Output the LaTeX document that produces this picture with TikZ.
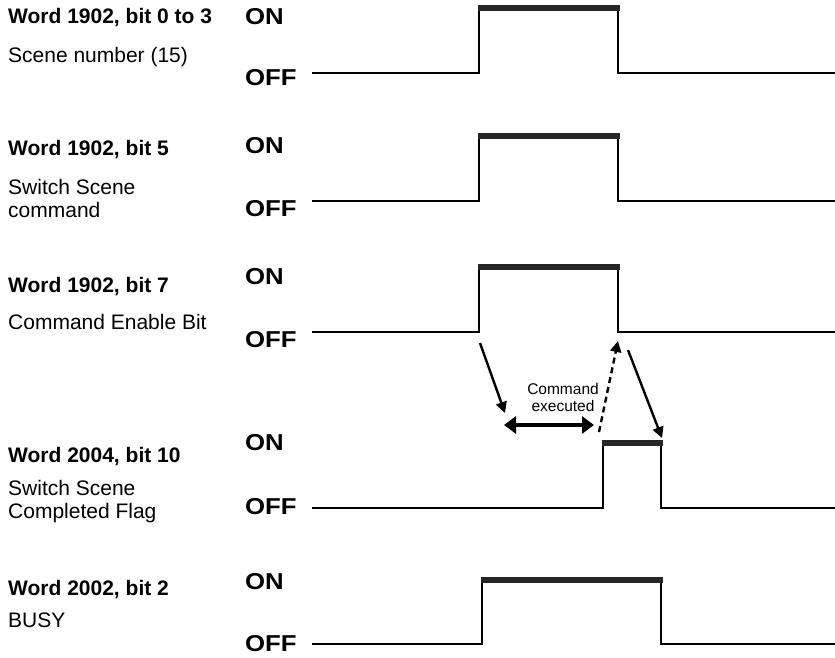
\documentclass[tikz,border=0pt]{standalone}
\usepackage{fontspec}
\setmainfont{Liberation Sans}
\newfontfamily\onofffont[FakeStretch=1.12]{Liberation Sans}
\usetikzlibrary{arrows.meta}
\newcommand\drawpulse[5]{% name, low y, top y, rise x, fall x
  \coordinate (#1s) at (312,#2);
  \coordinate (#1r) at (#4,#2);
  \coordinate (#1rt) at (#4,#3);
  \coordinate (#1ft) at (#5,#3);
  \coordinate (#1f) at (#5,#2);
  \coordinate (#1e) at (835,#2);
  \draw[sig] (#1s) -- (#1r) -- (#1rt) -- (#1ft) -- (#1f) -- (#1e);
  \draw[hi] ([xshift=-1.5pt]#1rt) -- ([xshift=1.5pt]#1ft);
}
\begin{document}
\begin{tikzpicture}[x=1pt,y=-1pt,
  sig/.style={line width=2.8pt, line join=miter},
  hi/.style={line width=6pt, black!85},
  lbl/.style={anchor=west, inner sep=0pt, align=left, font=\fontsize{21}{23}\selectfont},
  blbl/.style={anchor=west, inner sep=0pt, font=\fontsize{21}{23}\selectfont\bfseries},
  onoff/.style={anchor=west, inner sep=0pt, font=\onofffont\bfseries\fontsize{23}{23}\selectfont},
  arr/.style={line width=2.4pt, -{Triangle[length=11pt,width=11pt]}},
  darr/.style={line width=4.5pt, {Triangle[length=12pt,width=17pt]}-{Triangle[length=12pt,width=17pt]}},
  small/.style={align=center, inner sep=0pt, font=\fontsize{15.5}{17}\selectfont}]
\useasboundingbox (0,0) rectangle (835,658);

% row 1
\node[blbl] (w1) at (8,18) {Word 1902, bit 0 to 3};
\node[lbl] (d1) at (8,57) {Scene number (15)};
\node[onoff] (on1) at (245,17) {ON};
\node[onoff] (off1) at (245,78) {OFF};
\drawpulse{p1}{73}{8}{479}{618}

% row 2
\node[blbl] (w2) at (8,150) {Word 1902, bit 5};
\node[lbl] (d2) at (8,198.5) {Switch Scene\\command};
\node[onoff] (on2) at (245,146) {ON};
\node[onoff] (off2) at (245,209) {OFF};
\drawpulse{p2}{201}{136}{479}{618}

% row 3
\node[blbl] (w3) at (8,287) {Word 1902, bit 7};
\node[lbl] (d3) at (8,322) {Command Enable Bit};
\node[onoff] (on3) at (245,277) {ON};
\node[onoff] (off3) at (245,340) {OFF};
\drawpulse{p3}{332}{267}{479}{618}

% row 4
\node[blbl] (w4) at (8,457) {Word 2004, bit 10};
\node[lbl] (d4) at (8,501.5) {Switch Scene\\Completed Flag};
\node[onoff] (on4) at (245,443) {ON};
\node[onoff] (off4) at (245,507) {OFF};
\drawpulse{p4}{508}{443}{603}{661}

% row 5
\node[blbl] (w5) at (8,590) {Word 2002, bit 2};
\node[lbl] (d5) at (8,620) {BUSY};
\node[onoff] (on5) at (245,582) {ON};
\node[onoff] (off5) at (245,644) {OFF};
\drawpulse{p5}{644}{580}{482}{661}

% arrows
\coordinate (a1s) at (480,343);
\coordinate (a1e) at (505,413);
\draw[arr] (a1s) -- (a1e);

\coordinate (dl) at (504,425);
\coordinate (dr) at (594,425);
\draw[darr] (dl) -- (dr);

\coordinate (b1s) at (599,432);
\coordinate (b1e) at (618,341);
\draw[arr, dash pattern=on 6pt off 4pt] (b1s) -- (b1e);

\coordinate (c1s) at (628,350);
\coordinate (c1e) at (662,438);
\draw[arr] (c1s) -- (c1e);

\node[small] (ce) at (563,397) {Command\\executed};
\end{tikzpicture}
\end{document}
